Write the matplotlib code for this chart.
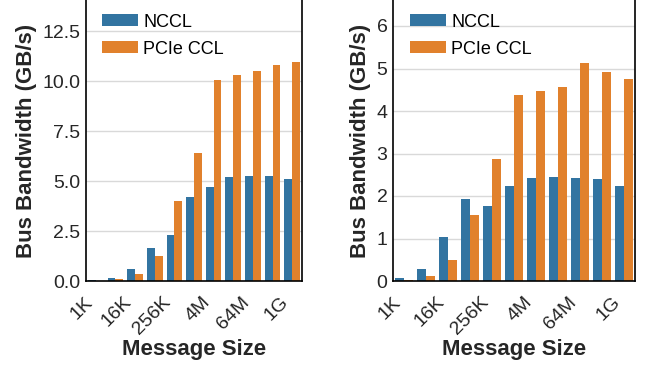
import numpy as np
import matplotlib
matplotlib.use('Agg')
import matplotlib.pyplot as plt

plt.rcParams['font.family'] = ['Liberation Sans', 'DejaVu Sans']

sizes = ['1K', '4K', '16K', '64K', '256K', '1M', '4M', '16M', '64M',
         '256M', '1G']
series = ['NCCL', 'PCIe CCL']

left_nccl = [0.05, 0.17, 0.62, 1.67, 2.3, 4.22, 4.7, 5.22, 5.27, 5.27, 5.1]
left_pcie = [0.02, 0.1, 0.35, 1.27, 4.0, 6.42, 10.07, 10.32, 10.48,
             10.82, 10.93]
right_nccl = [0.08, 0.29, 1.04, 1.93, 1.76, 2.24, 2.42, 2.45, 2.42, 2.4,
              2.24]
right_pcie = [0.02, 0.12, 0.5, 1.55, 2.87, 4.38, 4.48, 4.56, 5.14, 4.92,
              4.75]

colors = ['#3274a1', '#e1812c']
text_col = '#262626'


def draw_panel(ax, nccl, pcie, ymax, yticks, fmt):
    x = np.arange(len(sizes))
    w = 0.4
    ax.set_axisbelow(True)
    ax.yaxis.grid(True, color='#d9d9d9', linewidth=1.0)
    ax.bar(x - w / 2, nccl, w, color=colors[0], label=series[0])
    ax.bar(x + w / 2, pcie, w, color=colors[1], label=series[1])
    ax.set_xlim(-0.5, len(sizes) - 0.5)
    ax.set_ylim(0, ymax)
    ax.set_yticks(yticks)
    ax.set_yticklabels([fmt.format(v) for v in yticks])
    ax.set_xticks(x[::2])
    ax.set_xticklabels(sizes[::2], rotation=45, ha='right')
    ax.tick_params(axis='both', length=0, labelsize=14, colors=text_col,
                   pad=4)
    ax.tick_params(axis='x', pad=9)
    for s in ['left', 'right', 'bottom']:
        ax.spines[s].set_color('black')
        ax.spines[s].set_linewidth(1.2)
    ax.spines['top'].set_visible(False)
    ax.set_xlabel('Message Size', fontsize=16, fontweight='bold',
                  color=text_col, labelpad=1)
    ax.set_ylabel('Bus Bandwidth (GB/s)', fontsize=16, fontweight='bold',
                  color=text_col, labelpad=4)
    ax.legend(loc='upper left', bbox_to_anchor=(0.025, 0.99), frameon=False,
              fontsize=13, handlelength=2.0, handleheight=0.67,
              handletextpad=0.28, labelspacing=0.55, borderaxespad=0.2)


fig = plt.figure(figsize=(6.49, 3.66), dpi=100)
ax1 = fig.add_axes([86 / 649, 85 / 366, 216 / 649, 281 / 366])
ax2 = fig.add_axes([393 / 649, 85 / 366, 242 / 649, 281 / 366])

draw_panel(ax1, left_nccl, left_pcie, 281 / 20.0,
           [0, 2.5, 5.0, 7.5, 10.0, 12.5], '{:.1f}')
draw_panel(ax2, right_nccl, right_pcie, 281 / 42.5,
           [0, 1, 2, 3, 4, 5, 6], '{:d}')

fig.savefig('out.png', dpi=100)
